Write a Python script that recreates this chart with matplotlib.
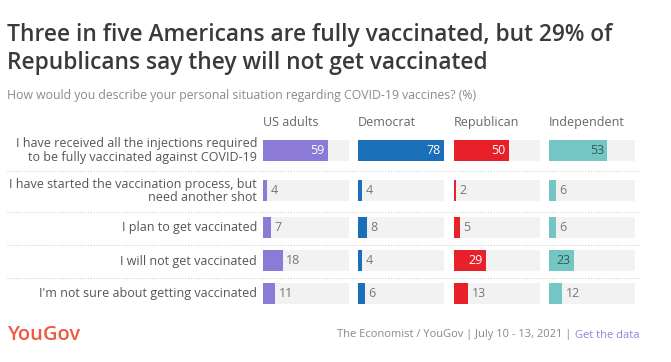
import matplotlib.pyplot as plt
from matplotlib.lines import Line2D

plt.rcParams["font.family"] = ["Open Sans", "DejaVu Sans"]

# data
answers = ["I have received all the injections required\nto be fully vaccinated against COVID-19",
           "I have started the vaccination process, but\nneed another shot",
           "I plan to get vaccinated",
           "I will not get vaccinated",
           "I'm not sure about getting vaccinated"]
groups = ["US adults", "Democrat", "Republican", "Independent"]
us_adults = [59, 4, 7, 18, 11]
democrat = [78, 4, 8, 4, 6]
republican = [50, 2, 5, 29, 13]
independent = [53, 6, 6, 23, 12]
values = [us_adults, democrat, republican, independent]

colors = ["#8c7bd6", "#1b6fb8", "#e8202a", "#73c6c3"]
inside_text = ["white", "white", "white", "#3a5a5a"]

W, H = 671, 362
fig = plt.figure(figsize=(W / 100, H / 100), dpi=100)

def fx(x):
    return x / W

def fy(y):
    return 1 - y / H

# layout (pixels)
row_y = [150.5, 191, 228, 261, 294]
seps = [171, 212, 245, 278]
panel_x = [263, 358, 454, 549]
track_w = 86
bar_h = 21
vmax = 78
top, bottom = 110, 320

fig.text(fx(7), fy(35), "Three in five Americans are fully vaccinated, but 29% of",
         fontsize=16.4, fontweight="semibold", color="#3a3a3a", va="center")
fig.text(fx(7), fy(63), "Republicans say they will not get vaccinated",
         fontsize=16.4, fontweight="semibold", color="#3a3a3a", va="center")
fig.text(fx(7), fy(96), "How would you describe your personal situation regarding COVID-19 vaccines? (%)",
         fontsize=8.8, color="#8a8a8a", va="center")

for i, a in enumerate(answers):
    fig.text(fx(257), fy(row_y[i]), a, fontsize=9.0, color="#555555",
             ha="right", va="center", linespacing=1.0)

for s in seps:
    fig.add_artist(Line2D([fx(7), fx(640)], [fy(s), fy(s)], transform=fig.transFigure,
                          color="#cfcfcf", lw=0.8, ls=(0, (1, 1.5))))

for k, g in enumerate(groups):
    ax = fig.add_axes([fx(panel_x[k]), fy(bottom), track_w / W, (bottom - top) / H])
    ax.set_xlim(0, vmax)
    ax.set_ylim(bottom, top)
    ax.axis("off")
    ax.barh(row_y, [vmax] * len(row_y), height=bar_h, color="#f2f2f2", zorder=1)
    ax.barh(row_y, values[k], height=bar_h, color=colors[k], zorder=2)
    ax.text(0, 123, g, fontsize=9.0, color="#666666", va="center", ha="left")
    for j, v in enumerate(values[k]):
        if v >= 20:
            ax.text(v - 3, row_y[j], str(v), fontsize=9.0, color=inside_text[k],
                    ha="right", va="center", zorder=3)
        else:
            ax.text(v + 3, row_y[j], str(v), fontsize=9.0, color="#777777",
                    ha="left", va="center", zorder=3)

fig.text(fx(7), fy(335), "YouGov", fontsize=14.5, color="#f0583f", va="center",
         fontweight="semibold")
fig.text(fx(574), fy(335), "The Economist / YouGov | July 10 - 13, 2021 | ",
         fontsize=8.0, color="#888888", va="center", ha="right")
fig.text(fx(575), fy(335), "Get the data", fontsize=8.0, color="#8a86d8",
         va="center", ha="left")

fig.savefig("out.png", dpi=100, facecolor="white")
